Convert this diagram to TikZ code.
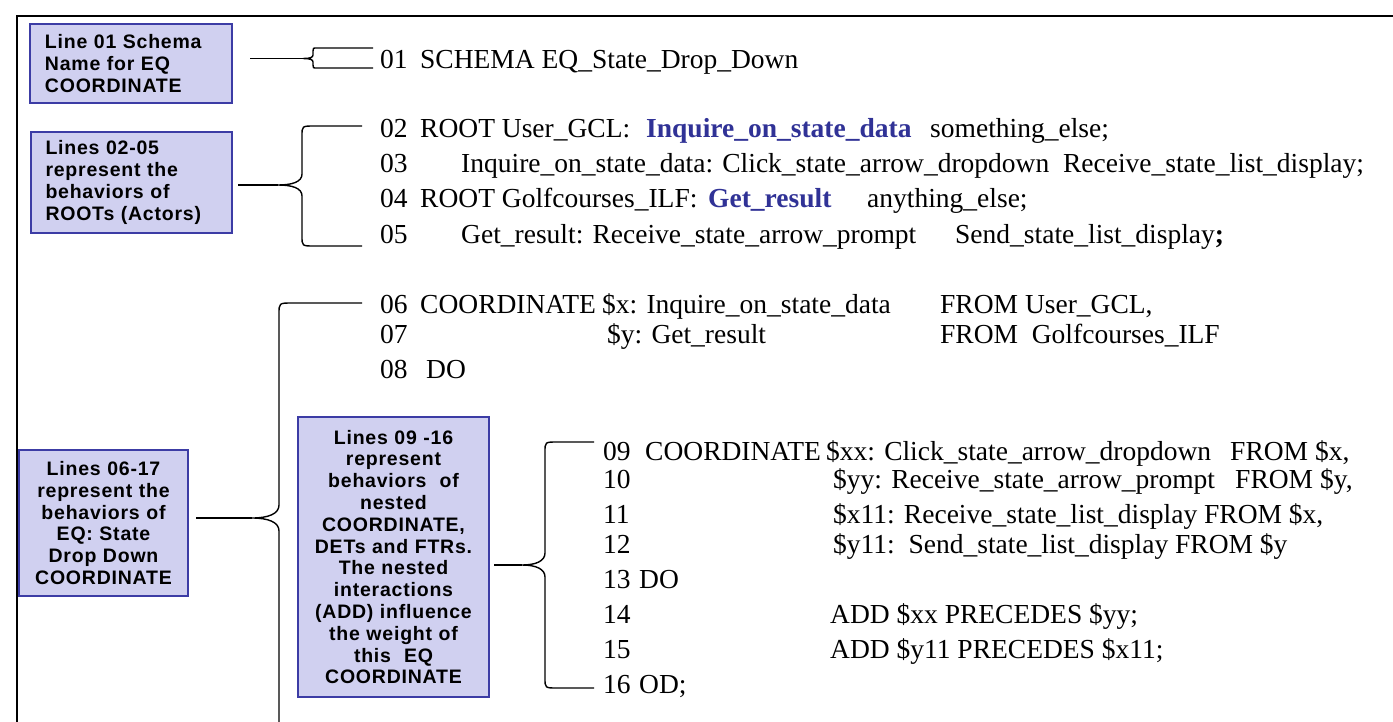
\documentclass[tikz,border=0pt]{standalone}
\usepackage{fontspec}
\setmainfont{Liberation Serif}
\newfontfamily\boxfont[LetterSpace=4]{Liberation Sans}
\definecolor{boxfill}{RGB}{208,208,240}
\definecolor{boxdraw}{RGB}{60,60,165}
\definecolor{hl}{RGB}{48,50,150}
\tikzset{
  code/.style={font=\fontsize{27.5}{30}\selectfont, inner sep=0pt, anchor=base west},
  hlt/.style={code, text=hl, font=\fontsize{27.5}{30}\selectfont\bfseries},
  lbox/.style={draw=boxdraw, fill=boxfill, line width=1.6pt, inner sep=0pt,
    font=\boxfont\bfseries\fontsize{19.5}{21.8}\selectfont},
  brace/.style={draw=black, line width=1.4pt},
}
\begin{document}
\begin{tikzpicture}[x=1pt,y=-1pt]
\useasboundingbox (0,0) rectangle (1393,721);
\fill[white] (0,0) rectangle (1393,721);
% frame
\draw[line width=2pt] (17,722) -- (17,16) -- (1394,16);

% boxes
\node[lbox, minimum width=202pt, minimum height=79pt, text width=172pt, align=left] (b1) at (131,63.5)
  {Line 01 Schema\\Name for EQ\\COORDINATE};
\node[lbox, minimum width=201pt, minimum height=101pt, text width=172pt, align=left] (b2) at (131.5,182.5)
  {Lines 02-05\\represent the\\behaviors of\\ROOTs (Actors)};
\node[lbox, minimum width=169pt, minimum height=146pt, text width=165pt, align=center] (b3) at (103.5,523)
  {Lines 06-17\\represent the\\behaviors of\\EQ: State\\Drop Down\\COORDINATE};
\node[lbox, minimum width=191pt, minimum height=280pt, text width=187pt, align=center] (b4) at (393.5,557)
  {Lines 09 -16\\represent\\behaviors\ \ of\\nested\\COORDINATE,\\DETs and FTRs.\\The nested\\interactions\\(ADD) influence\\the weight of\\this\ \ EQ\\COORDINATE};

% code lines
\node[code] (n01) at (380,68) {01};
\node[code] (t01) at (420,68) {SCHEMA EQ\_State\_Drop\_Down};

\node[code] (n02) at (380,137) {02};
\node[code] (t02a) at (420,137) {ROOT User\_GCL:};
\node[hlt] (t02b) at (646,137) {Inquire\_on\_state\_data};
\node[code] (t02c) at (930,137) {something\_else;};

\node[code] (n03) at (380,172) {03};
\node[code] (t03) at (461,172) {Inquire\_on\_state\_data: Click\_state\_arrow\_dropdown\ \ Receive\_state\_list\_display;};

\node[code] (n04) at (380,207) {04};
\node[code] (t04a) at (420,207) {ROOT Golfcourses\_ILF:};
\node[hlt] (t04b) at (708,207) {Get\_result};
\node[code] (t04c) at (867,207) {anything\_else;};

\node[code] (n05) at (380,243) {05};
\node[code] (t05a) at (461,243) {Get\_result: Receive\_state\_arrow\_prompt};
\node[code] (t05b) at (955,243) {Send\_state\_list\_display\textbf{;}};

\node[code] (n06) at (380,313) {06};
\node[code] (t06a) at (420,313) {COORDINATE};
\node[code] (t06b) at (602,313) {\$x: Inquire\_on\_state\_data};
\node[code] (t06c) at (940,313) {FROM User\_GCL,};

\node[code] (n07) at (380,343) {07};
\node[code] (t07b) at (607,343) {\$y: Get\_result};
\node[code] (t07c) at (940,343) {FROM\ \ Golfcourses\_ILF};

\node[code] (n08) at (380,378) {08};
\node[code] (t08) at (426,378) {DO};

\node[code] (n09) at (603,460) {09};
\node[code] (t09a) at (645,460) {COORDINATE};
\node[code] (t09b) at (826,460) {\$xx: Click\_state\_arrow\_dropdown};
\node[code] (t09c) at (1230,460) {FROM \$x,};

\node[code] (n10) at (603,488) {10};
\node[code] (t10b) at (833,488) {\$yy: Receive\_state\_arrow\_prompt};
\node[code] (t10c) at (1235,488) {FROM \$y,};

\node[code] (n11) at (603,523) {11};
\node[code] (t11) at (833,523) {\$x11: Receive\_state\_list\_display\ FROM \$x,};

\node[code] (n12) at (603,553) {12};
\node[code] (t12) at (833,553) {\$y11:\ \ Send\_state\_list\_display\ FROM \$y};

\node[code] (n13) at (603,588) {13};
\node[code] (t13) at (639,588) {DO};

\node[code] (n14) at (603,623) {14};
\node[code] (t14) at (830,623) {ADD \$xx PRECEDES \$yy;};

\node[code] (n15) at (603,658) {15};
\node[code] (t15) at (830,658) {ADD \$y11 PRECEDES \$x11;};

\node[code] (n16) at (603,693) {16};
\node[code] (t16) at (639,693) {OD;};

% brace 1
\coordinate (c1s) at (250,58.5);
\coordinate (c1t) at (373,48);
\coordinate (c1b) at (373,68);
\draw[brace] (c1s) -- (303,58.5);
\draw[brace] (c1t) -- (317,48) .. controls (313,48) .. (313,51) -- (313,55)
  .. controls (313,57.5) and (310,58.5) .. (303,58.5)
  .. controls (310,58.5) and (313,59.5) .. (313,62) -- (313,65)
  .. controls (313,68) .. (317,68) -- (c1b);

% brace 2
\coordinate (c2s) at (238,185);
\coordinate (c2t) at (362,126);
\coordinate (c2b) at (362,246);
\draw[brace] (c2s) -- (278,185);
\draw[brace] (c2t) -- (314,126) .. controls (302,126) .. (302,136) -- (302,174)
  .. controls (302,182) and (292,185) .. (278,185)
  .. controls (292,185) and (302,188) .. (302,196) -- (302,236)
  .. controls (302,246) .. (314,246) -- (c2b);

% brace 3
\coordinate (c3s) at (196,518);
\coordinate (c3t) at (362,303);
\coordinate (c3b) at (279,725);
\draw[brace] (c3s) -- (252,518);
\draw[brace] (c3t) -- (292,303) .. controls (279,303) .. (279,314) -- (279,505)
  .. controls (279,514) and (268,518) .. (252,518)
  .. controls (268,518) and (279,522) .. (279,531) -- (c3b);

% brace 4
\coordinate (c4s) at (494,565);
\coordinate (c4t) at (594,442);
\coordinate (c4b) at (594,688);
\draw[brace] (c4s) -- (522,565);
\draw[brace] (c4t) -- (557,442) .. controls (545,442) .. (545,452) -- (545,553)
  .. controls (545,561) and (536,565) .. (522,565)
  .. controls (536,565) and (545,569) .. (545,577) -- (545,678)
  .. controls (545,688) .. (557,688) -- (c4b);
\end{tikzpicture}
\end{document}
